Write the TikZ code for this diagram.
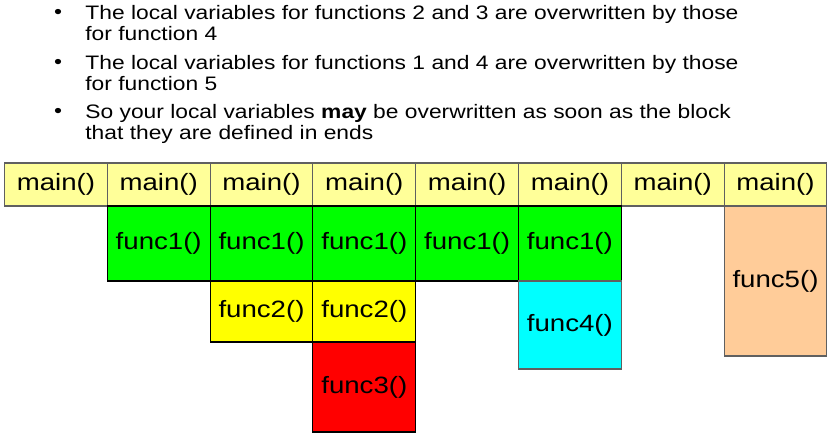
\documentclass[tikz,border=0pt]{standalone}
\usepackage{fontspec}
\setmainfont[FakeStretch=1.17]{Liberation Sans}
\usepackage{tikz}
\usetikzlibrary{calc}
\tikzset{every picture/.style={line width=0.75pt}}
\definecolor{mainyellow}{RGB}{255,255,153}
\definecolor{funcgreen}{RGB}{0,255,0}
\definecolor{funcyellow}{RGB}{255,255,0}
\definecolor{funcred}{RGB}{255,0,0}
\definecolor{funccyan}{RGB}{0,255,255}
\definecolor{funcpeach}{RGB}{255,204,153}
\definecolor{edgegray}{RGB}{96,96,96}

\begin{document}
\begin{tikzpicture}[x=1pt,y=1pt,yscale=-1,xscale=1,
  cell/.style={draw=black, line width=1.1pt, minimum width=102.8pt, inner sep=0pt, font=\fontsize{23.6}{28}\selectfont},
  mainbox/.style={cell, fill=mainyellow, draw=edgegray, minimum height=43pt},
  onebox/.style={cell, fill=funcgreen, minimum height=75pt},
  twobox/.style={cell, fill=funcyellow, minimum height=61pt},
  threebox/.style={cell, fill=funcred, minimum height=90pt},
  fourbox/.style={cell, fill=funccyan, draw=edgegray, minimum height=88pt},
  fivebox/.style={cell, fill=funcpeach, draw=edgegray, minimum height=150pt},
  bullettext/.style={anchor=north west, inner sep=0pt, align=left, font=\fontsize{19.5}{21}\selectfont},
  dot/.style={anchor=base, inner sep=0pt, font=\fontsize{19.5}{21}\selectfont}]
\useasboundingbox (0,0) rectangle (830,438);

% Text Node
\node [dot] (dot1) at (58,19) {\textbullet};
\node [bullettext] (note1) at (85,5) {The local variables for functions 2 and 3 are overwritten by those\\for function 4};
% Text Node
\node [dot] (dot2) at (58,69) {\textbullet};
\node [bullettext] (note2) at (85,55) {The local variables for functions 1 and 4 are overwritten by those\\for function 5};
% Text Node
\node [dot] (dot3) at (58,118) {\textbullet};
\node [bullettext] (note3) at (85,104) {So your local variables \textbf{may} be overwritten as soon as the block\\that they are defined in ends};

%Shape: Rectangle row of main()
\foreach \i in {1,...,8}
  \node [mainbox] (main\i) at ({4.5+102.8*(\i-0.5)},184.5) {main()};
%Shape: Rectangle row of func1()
\foreach \i in {2,...,6}
  \node [onebox] (one\i) at ({4.5+102.8*(\i-0.5)},243.5) {func1()};
%Shape: Rectangle func2()
\foreach \i in {3,4}
  \node [twobox] (two\i) at ({4.5+102.8*(\i-0.5)},311.5) {func2()};
%Shape: Rectangle func3()
\node [threebox] (three4) at (364.3,387) {func3()};
%Shape: Rectangle func4()
\node [fourbox] (four6) at (569.9,325) {func4()};
%Shape: Rectangle func5()
\node [fivebox] (five8) at (775.5,281) {func5()};

\end{tikzpicture}
\end{document}
